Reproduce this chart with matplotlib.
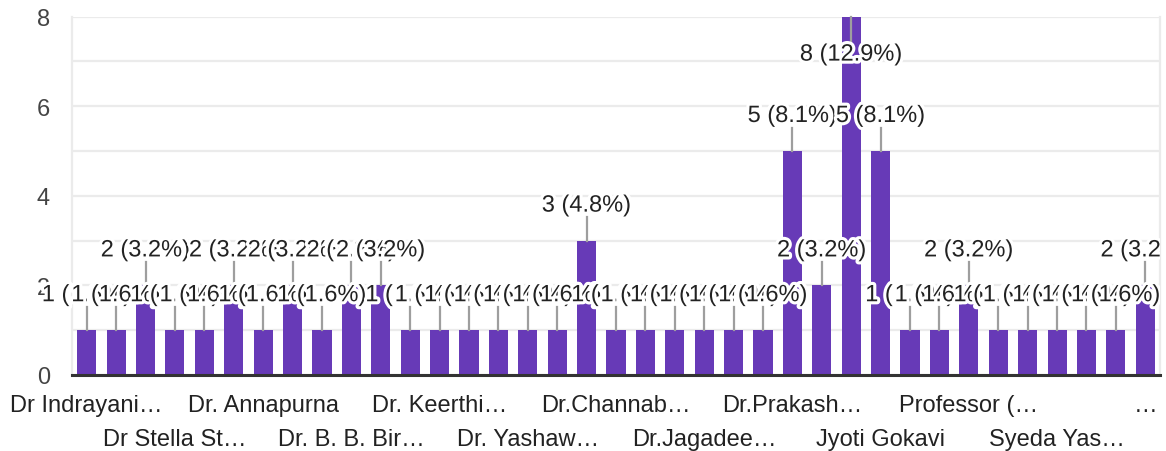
import matplotlib
matplotlib.use("Agg")
import matplotlib.pyplot as plt
import matplotlib.patheffects as pe
from matplotlib.transforms import Bbox, TransformedBbox
import numpy as np

# responses per option (37 options, 62 responses)
counts = [1, 1, 2, 1, 1, 2, 1, 2, 1, 2, 2, 1, 1, 1, 1, 1, 1, 3, 1,
          1, 1, 1, 1, 1, 5, 2, 8, 5, 1, 1, 2, 1, 1, 1, 1, 1, 2]
# only every third category name is shown on the axis
tick_pos = [0, 3, 6, 9, 12, 15, 18, 21, 24, 27, 30, 33, 36]
tick_labels = ["Dr Indrayani…", "Dr Stella St…", "Dr. Annapurna",
               "Dr. B. B. Bir…", "Dr. Keerthi…", "Dr. Yashaw…",
               "Dr.Channab…", "Dr.Jagadee…", "Dr.Prakash…",
               "Jyoti Gokavi", "Professor (…", "Syeda Yas…", "…"]
y_ticks = [0, 2, 4, 6, 8]

plt.rcParams['font.family'] = ['Liberation Sans', 'DejaVu Sans']

bar_col = '#673ab7'
grid_col = '#ebebeb'
fs = 17

fig = plt.figure(figsize=(11.66, 4.52), dpi=100)
ax = fig.add_axes([72/1166, 1-376/452, (1160-72)/1166, (376-17.5)/452])

x = np.arange(len(counts))
total = sum(counts)
ymax = 8
ax.bar(x, counts, width=0.65, color=bar_col, zorder=2)

ax.set_xlim(-0.5, len(counts)-0.5)
ax.set_ylim(0, ymax)

# gridlines every unit, labels every two
ax.set_yticks(y_ticks)
ax.set_yticks([1, 3, 5, 7], minor=True)
ax.set_yticklabels([str(v) for v in y_ticks])
ax.grid(axis='y', which='both', color=grid_col, lw=1.6, zorder=0)
ax.tick_params(axis='y', which='both', length=0, pad=16, labelsize=fs, labelcolor='#444444')

# two rows of category labels
ax.set_xticks(tick_pos[0::2])
ax.set_xticklabels(tick_labels[0::2])
ax.set_xticks(tick_pos[1::2], minor=True)
ax.set_xticklabels(tick_labels[1::2], minor=True)
ax.tick_params(axis='x', which='major', length=0, pad=13.5, labelsize=fs, labelcolor='#222222')
ax.tick_params(axis='x', which='minor', length=0, pad=38, labelsize=fs, labelcolor='#222222')

ax.spines['top'].set_visible(False)
for s in ['left', 'right']:
    ax.spines[s].set_color(grid_col)
    ax.spines[s].set_linewidth(1.6)
ax.spines['bottom'].set_color('#333333')
ax.spines['bottom'].set_linewidth(2.2)
ax.spines['bottom'].set_zorder(4)

# labels are cut at the right edge of the chart area
clip = TransformedBbox(Bbox([[0, 0], [1160/1166, 1]]), fig.transFigure)
halo = [pe.withStroke(linewidth=4.5, foreground='white')]
for xi, v in zip(x, counts):
    lab = "%d (%.1f%%)" % (v, 100.0*v/total)
    if v + 0.9 > ymax:
        ax.plot([xi, xi], [v, v-0.56], color='#9e9e9e', lw=1.6, zorder=3, clip_on=False)
        ty = v - 0.85
    else:
        ax.plot([xi, xi], [v, v+0.52], color='#9e9e9e', lw=1.6, zorder=3, clip_on=False)
        ty = v + 0.78
    t = ax.text(xi, ty, lab, ha='center', va='center', fontsize=fs, color='#222222',
                path_effects=halo, zorder=5)
    t.set_clip_box(clip)
    t.set_clip_on(True)

plt.savefig('out.png', dpi=100)
